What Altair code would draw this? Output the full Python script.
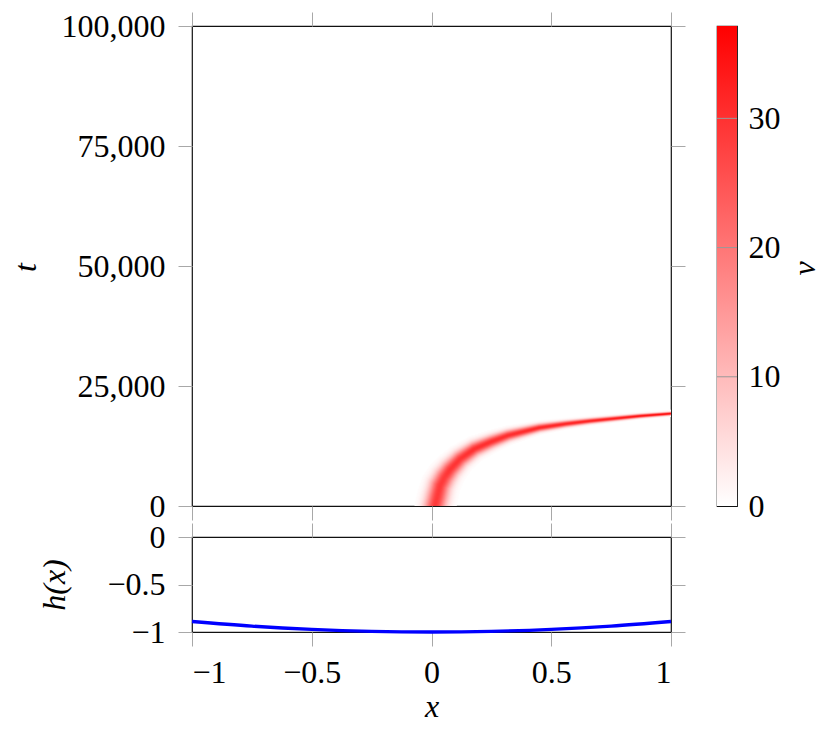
import altair as alt
import numpy as np
import pandas as pd

# ---------------- data ----------------
# ridge of the red plume in the (x, t) panel
ridge_x = [0.015, 0.025, 0.036, 0.055, 0.078, 0.12, 0.18, 0.25, 0.32, 0.45, 0.56, 0.66, 0.87, 1.0]
ridge_t = [0, 2000, 4200, 6000, 7600, 9800, 11900, 13400, 14700, 16300, 17100, 17700, 18750, 19250]
ridge_sigma_px = [7.0, 7.0, 6.8, 6.5, 6.0, 5.3, 4.6, 4.0, 3.4, 2.5, 2.0, 1.7, 1.3, 1.1]
ridge_peak = [31, 31, 31, 31, 32, 32, 33, 33, 33, 34, 34, 34, 35, 35]
V_MAX = 37.15

# bottom panel h(x)
h_x = [-1.0, -0.75, -0.5, -0.25, 0.0, 0.25, 0.5, 0.75, 1.0]
h_val = [-0.89, -0.938, -0.972, -0.993, -1.0, -0.993, -0.972, -0.938, -0.89]

x_ticks = [-1, -0.5, 0, 0.5, 1]
t_ticks = [0, 25000, 50000, 75000, 100000]
h_ticks = [-1, -0.5, 0]
v_ticks = [0, 10, 20, 30]
v_lines = [10, 20, 30]

# ---------------- build heat-map cells from the ridge ----------------
W, H = 479, 480
X_PX = W / 2.0
T_PX = H / 100000.0
rx = (np.array(ridge_x) + 1) * X_PX
rt = np.array(ridge_t) * T_PX
rs = np.array(ridge_sigma_px)
rp = np.array(ridge_peak, dtype=float)

dx = 2.0 / 480
dt = 100000.0 / 480
xs = -1 + dx * np.arange(480)
ts = dt * np.arange(480)
xs = xs[(xs > -0.15) & (xs < 1.0)]
ts = ts[ts < 24000]
XX, TT = np.meshgrid(xs, ts)
cx = (XX + dx / 2 + 1) * X_PX
ct = (TT + dt / 2) * T_PX
vv = np.zeros_like(cx)
for i in range(len(rx) - 1):
    ax_, at_ = rx[i], rt[i]
    bx_, bt_ = rx[i + 1], rt[i + 1]
    sx, st = bx_ - ax_, bt_ - at_
    L2 = sx * sx + st * st
    u = np.clip(((cx - ax_) * sx + (ct - at_) * st) / L2, 0, 1)
    px = ax_ + u * sx
    pt = at_ + u * st
    d2 = (cx - px) ** 2 + (ct - pt) ** 2
    sig = rs[i] + u * (rs[i + 1] - rs[i])
    pk = rp[i] + u * (rp[i + 1] - rp[i])
    vv = np.maximum(vv, pk * np.exp(-d2 / (2 * sig * sig)))

mask = vv > 0.4
heat_df = pd.DataFrame({
    "x": np.round(XX[mask], 5),
    "x2": np.round(XX[mask] + dx * 1.3, 5),
    "t": np.round(TT[mask], 1),
    "t2": np.round(TT[mask] + dt * 1.3, 1),
    "v": np.round(vv[mask], 2),
})
ridge_df = pd.DataFrame({"x": ridge_x, "t": ridge_t})
h_df = pd.DataFrame({"x": h_x, "h": h_val})
cbar_df = pd.DataFrame({"lo": [0.0], "hi": [V_MAX]})
vline_df = pd.DataFrame({"v": v_lines})

# ---------------- styles ----------------
FONT = "Liberation Serif"
FS = 32
TICK = dict(domain=False, grid=False, ticks=True, tickColor="#a8a8a8",
            tickWidth=1, tickSize=14)
MINUS = "replace(format(datum.value, '~g'), '-', '\u2212')"

xscale = alt.Scale(domain=[-1, 1], nice=False, zero=False)
tscale = alt.Scale(domain=[0, 100000], nice=False)
hscale = alt.Scale(domain=[-1, 0], nice=False)
cscale = alt.Scale(domain=[0, V_MAX], range=["#ffffff", "#ff0000"], interpolate="rgb")

# ---------------- top panel ----------------
heat_rects = alt.Chart(heat_df).mark_rect(clip=True).encode(
    x=alt.X("x:Q", scale=xscale,
            axis=alt.Axis(orient="bottom", values=x_ticks, labels=False, title=None, **TICK)),
    x2="x2:Q",
    y=alt.Y("t:Q", scale=tscale,
            axis=alt.Axis(orient="left", values=t_ticks, labelExpr="format(datum.value, ',')",
                          labelPadding=13, title="t", titleX=-182, titleY=241,
                          titleAngle=-90, titleAlign="center", titleBaseline="top", **TICK)),
    y2="t2:Q",
    color=alt.Color("v:Q", scale=cscale, legend=None),
)
heat_frame = alt.Chart(ridge_df).mark_point(opacity=0).encode(
    x=alt.X("x:Q", scale=xscale,
            axis=alt.Axis(orient="top", values=x_ticks, labels=False, title=None, **TICK)),
    y=alt.Y("t:Q", scale=tscale,
            axis=alt.Axis(orient="right", values=t_ticks, labels=False, title=None, **TICK)),
)
heat = alt.layer(heat_rects, heat_frame).resolve_axis(
    x="independent", y="independent").properties(width=W, height=H)

# ---------------- colour bar ----------------
grad = alt.Gradient(
    gradient="linear",
    stops=[alt.GradientStop(color="#ffffff", offset=0),
           alt.GradientStop(color="#ff0000", offset=1)],
    x1=0, x2=0, y1=1, y2=0,
)
cbar_rect = alt.Chart(cbar_df).mark_rect(fill=grad).encode(
    x=alt.value(0), x2=alt.value(20),
    y=alt.Y("lo:Q", scale=alt.Scale(domain=[0, V_MAX], nice=False),
            axis=alt.Axis(orient="right", values=v_ticks, ticks=False, domain=False,
                          grid=False, labelPadding=11, title="v", titleX=84,
                          titleY=242, titleAngle=-90, titleAlign="center",
                          titleBaseline="bottom")),
    y2="hi:Q",
)
cbar_lines = alt.Chart(vline_df).mark_rule(color="#999999", strokeWidth=1).encode(
    y=alt.Y("v:Q"), x=alt.value(0), x2=alt.value(20),
)
cbar = alt.layer(cbar_rect, cbar_lines).properties(width=20, height=H)

# ---------------- bottom panel ----------------
h_line = alt.Chart(h_df).mark_line(color="#0000ff", strokeWidth=3.4,
                                   interpolate="monotone").encode(
    x=alt.X("x:Q", scale=xscale,
            axis=alt.Axis(orient="bottom", values=x_ticks, labelPadding=11,
                          labelExpr=MINUS, title="x", titleX=239.5, titleY=91.5,
                          titleAlign="center", titleBaseline="bottom", **TICK)),
    y=alt.Y("h:Q", scale=hscale,
            axis=alt.Axis(orient="left", values=h_ticks, labelPadding=13,
                          labelExpr=MINUS, title="h(x)", titleX=-153, titleY=47.5,
                          titleAngle=-90, titleAlign="center", titleBaseline="top",
                          **TICK)),
)
h_frame = alt.Chart(h_df).mark_point(opacity=0).encode(
    x=alt.X("x:Q", scale=xscale,
            axis=alt.Axis(orient="top", values=x_ticks, labels=False, title=None, **TICK)),
    y=alt.Y("h:Q", scale=hscale,
            axis=alt.Axis(orient="right", values=h_ticks, labels=False, title=None, **TICK)),
)
hpanel = alt.layer(h_line, h_frame).resolve_axis(
    x="independent", y="independent").properties(width=W, height=95)

chart = alt.concat(
    heat, cbar, hpanel, columns=2,
    spacing={"row": 31, "column": 46}, bounds="flush", align="each",
).properties(
    padding={"left": 0, "top": 1, "right": 0, "bottom": 0},
    background="white",
).configure_view(
    stroke="#111111", strokeWidth=1.2,
).configure_axis(
    labelFont=FONT, labelFontSize=FS, labelColor="black",
    titleFont=FONT, titleFontSize=FS, titleFontStyle="italic",
    titleFontWeight="normal", titleColor="black",
)

chart.save("out.html", embed_options={"renderer": "svg", "actions": False})
